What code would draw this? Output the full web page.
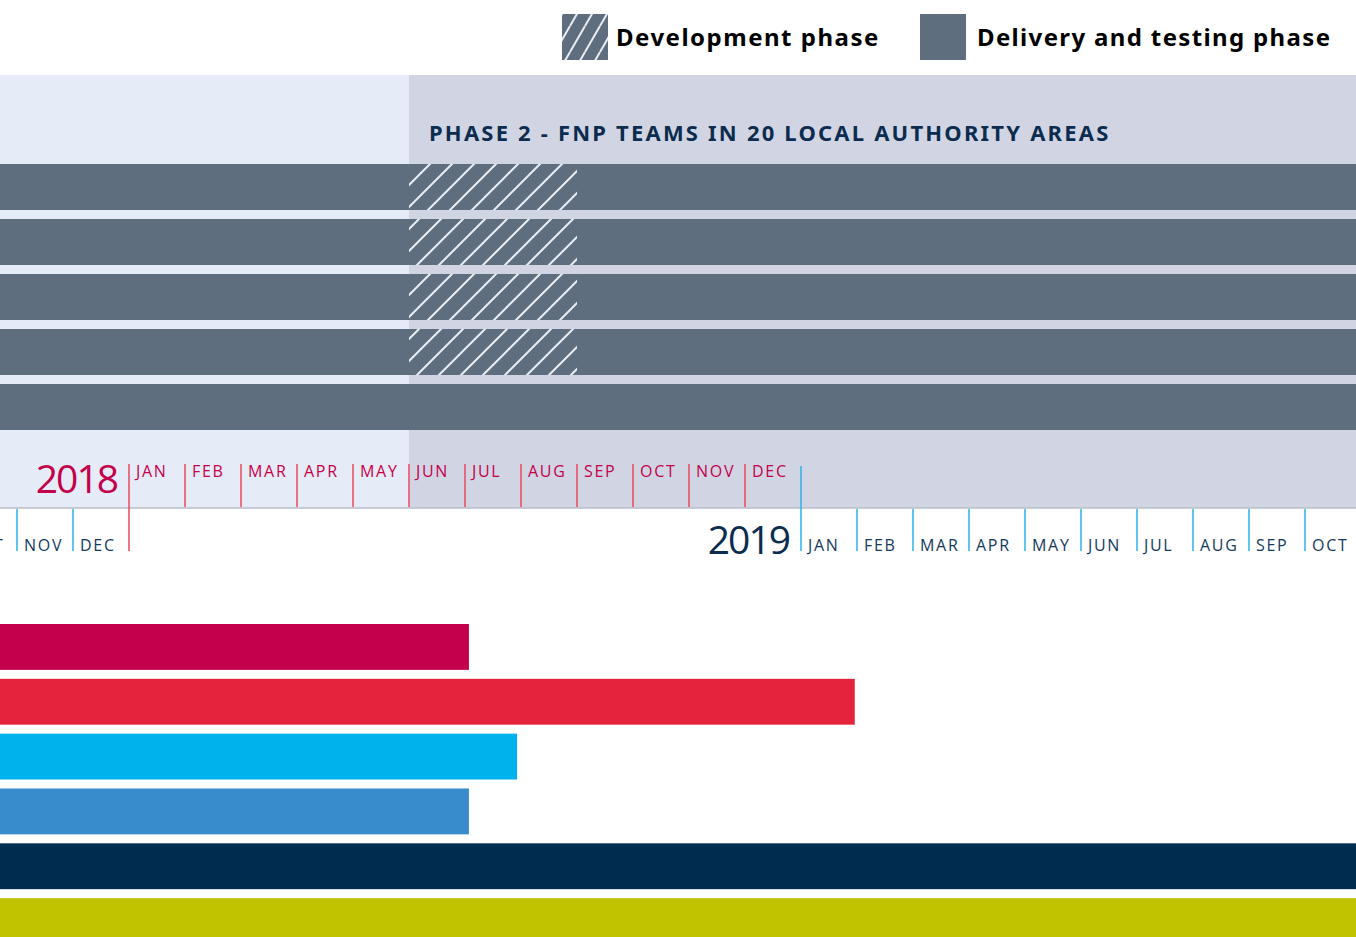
<!DOCTYPE html>
<html>
<head>
<meta charset="utf-8">
<script src="https://cdn.jsdelivr.net/npm/d3@7"></script>
<style>
    body { margin: 0; background: white; overflow: hidden; }
    svg { display: block; }
</style>
</head>
<body>
<div id="chart"></div>
<script>
// month index 0 = January 2018
let months2018 = ['JAN', 'FEB', 'MAR', 'APR', 'MAY', 'JUN', 'JUL', 'AUG', 'SEP', 'OCT', 'NOV', 'DEC'];
let months2017 = ['OCT', 'NOV', 'DEC'];
let months2017Idx = [-3, -2, -1];
let months2019 = ['JAN', 'FEB', 'MAR', 'APR', 'MAY', 'JUN', 'JUL', 'AUG', 'SEP', 'OCT'];
let months2019Idx = [12, 13, 14, 15, 16, 17, 18, 19, 20, 21];

let phase2Start = 5;
let phase2Title = 'PHASE 2 - FNP TEAMS IN 20 LOCAL AUTHORITY AREAS';

// grey rows: delivery bars, with development (hatched) part
let greyRows = ['r1', 'r2', 'r3', 'r4', 'r5'];
let greyStart = [-6, -6, -6, -6, -6];
let greyEnd = [24, 24, 24, 24, 24];
let devStart = [5, 5, 5, 5, null];
let devEnd = [8, 8, 8, 8, null];

// coloured rows below the timeline
let colourRows = ['c1', 'c2', 'c3', 'c4', 'c5', 'c6'];
let colourStart = [-6, -6, -6, -6, -6, -6];
let colourEnd = [6.07, 12.96, 6.93, 6.07, 24, 24];
let colourFill = ['#c4004a', '#e6233d', '#00b2eb', '#398ccb', '#002c4f', '#c2c300'];

let width = 1356;
let height = 937;

let svg = d3
    .select('#chart')
    .append('svg')
    .attr('width', width)
    .attr('height', height);

let defs = svg.append('defs');

defs.append('pattern')
    .attr('id', 'hatch')
    .attr('patternUnits', 'userSpaceOnUse')
    .attr('width', 22)
    .attr('height', 22)
    .call(p => {
        p.append('rect').attr('width', 22).attr('height', 22).attr('fill', '#5f6e7e');
        p.append('path')
            .attr('d', 'M-11,11L11,-11M0,22L22,0M11,33L33,11')
            .attr('stroke', '#e8edf6')
            .attr('stroke-width', 2);
    });

defs.append('pattern')
    .attr('id', 'hatchKey')
    .attr('patternUnits', 'userSpaceOnUse')
    .attr('width', 15)
    .attr('height', 26)
    .call(p => {
        p.append('rect').attr('width', 15).attr('height', 26).attr('fill', '#5f6e7e');
        p.append('path')
            .attr('d', 'M0,26L15,0M-15,26L0,0M15,26L30,0')
            .attr('stroke', '#e8edf6')
            .attr('stroke-width', 2);
    });

let xScale = d3
    .scaleLinear()
    .domain([0, 12])
    .range([129, 801]);

let yGrey = d3
    .scaleBand()
    .domain(greyRows)
    .range([164, 430])
    .paddingInner(9 / 55)
    .paddingOuter(0);

let yColour = d3
    .scaleBand()
    .domain(colourRows)
    .range([624, 944])
    .paddingInner(9 / 55)
    .paddingOuter(0);

let clamp = v => Math.max(-20, Math.min(width + 20, v));

// background panels
svg.append('rect')
    .attr('x', 0)
    .attr('y', 75)
    .attr('width', xScale(phase2Start))
    .attr('height', 433)
    .attr('fill', '#e6ecf7');
svg.append('rect')
    .attr('x', xScale(phase2Start))
    .attr('y', 75)
    .attr('width', width - xScale(phase2Start))
    .attr('height', 433)
    .attr('fill', '#d1d5e3');
svg.append('line')
    .attr('x1', 0)
    .attr('x2', width)
    .attr('y1', 508)
    .attr('y2', 508)
    .attr('stroke', '#b7bcc7')
    .attr('stroke-width', 1.5);

svg.append('text')
    .text(phase2Title)
    .attr('x', xScale(phase2Start) + 20)
    .attr('y', 141)
    .attr('font-family', 'Noto Sans')
    .attr('font-weight', 'bold')
    .attr('font-size', 22)
    .attr('letter-spacing', 2.2)
    .attr('fill', '#0b2c4f');

// grey bars
let greyData = greyRows.map((r, i) => ({row: r, s: greyStart[i], e: greyEnd[i], ds: devStart[i], de: devEnd[i]}));

svg.selectAll('rect.grey')
    .data(greyData)
    .enter()
    .append('rect')
    .attr('class', 'grey')
    .attr('x', d => clamp(xScale(d.s)))
    .attr('y', d => yGrey(d.row))
    .attr('width', d => clamp(xScale(d.e)) - clamp(xScale(d.s)))
    .attr('height', yGrey.bandwidth())
    .attr('fill', '#5f6e7e');

svg.selectAll('rect.dev')
    .data(greyData.filter(d => d.ds !== null))
    .enter()
    .append('rect')
    .attr('class', 'dev')
    .attr('x', d => xScale(d.ds))
    .attr('y', d => yGrey(d.row))
    .attr('width', d => xScale(d.de) - xScale(d.ds))
    .attr('height', yGrey.bandwidth())
    .attr('fill', 'url(#hatch)');

// coloured bars
let colourData = colourRows.map((r, i) => ({row: r, s: colourStart[i], e: colourEnd[i], fill: colourFill[i]}));

svg.selectAll('rect.colour')
    .data(colourData)
    .enter()
    .append('rect')
    .attr('class', 'colour')
    .attr('x', d => clamp(xScale(d.s)))
    .attr('y', d => yColour(d.row))
    .attr('width', d => clamp(xScale(d.e)) - clamp(xScale(d.s)))
    .attr('height', yColour.bandwidth())
    .attr('fill', d => d.fill);

// upper month row (2018)
let upper = svg.append('g').attr('class', 'upper');
upper.selectAll('line')
    .data(months2018)
    .enter()
    .append('line')
    .attr('x1', (d, i) => xScale(i))
    .attr('x2', (d, i) => xScale(i))
    .attr('y1', 464)
    .attr('y2', (d, i) => i === 0 ? 551 : 507)
    .attr('stroke', '#e8495f')
    .attr('stroke-width', 1.5);
upper.selectAll('text')
    .data(months2018)
    .enter()
    .append('text')
    .text(d => d)
    .attr('x', (d, i) => xScale(i) + 7)
    .attr('y', 477)
    .attr('font-family', 'Open Sans')
    .attr('font-size', 16)
    .attr('letter-spacing', 1.7)
    .attr('fill', '#c4004a');
upper.append('text')
    .text('2018')
    .attr('x', xScale(0) - 12)
    .attr('y', 493)
    .attr('text-anchor', 'end')
    .attr('font-family', 'Open Sans')
    .attr('font-size', 39)
    .attr('letter-spacing', -2)
    .attr('fill', '#c4004a');

// lower month row (2017 end, 2019)
let lowerNames = months2017.concat(months2019);
let lowerIdx = months2017Idx.concat(months2019Idx);
let lower = svg.append('g').attr('class', 'lower');
lower.selectAll('line')
    .data(lowerIdx)
    .enter()
    .append('line')
    .attr('x1', d => xScale(d))
    .attr('x2', d => xScale(d))
    .attr('y1', d => d === 12 ? 466 : 509)
    .attr('y2', 551)
    .attr('stroke', '#2cb1e6')
    .attr('stroke-width', 1.5);
lower.selectAll('text')
    .data(lowerIdx)
    .enter()
    .append('text')
    .text((d, i) => lowerNames[i])
    .attr('x', d => xScale(d) + 7)
    .attr('y', 551)
    .attr('font-family', 'Open Sans')
    .attr('font-size', 16)
    .attr('letter-spacing', 1.7)
    .attr('fill', '#143a5e');
lower.append('text')
    .text('2019')
    .attr('x', xScale(12) - 12)
    .attr('y', 554)
    .attr('text-anchor', 'end')
    .attr('font-family', 'Open Sans')
    .attr('font-size', 39)
    .attr('letter-spacing', -2)
    .attr('fill', '#0a2d50');

// legend
let legend = svg.append('g').attr('class', 'legend');
legend.append('rect')
    .attr('x', 562)
    .attr('y', 14)
    .attr('width', 46)
    .attr('height', 46)
    .attr('fill', 'url(#hatchKey)');
legend.append('text')
    .text('Development phase')
    .attr('x', 616)
    .attr('y', 46)
    .attr('font-family', 'Noto Sans')
    .attr('font-weight', 'bold')
    .attr('font-size', 24)
    .attr('letter-spacing', 1.5)
    .attr('fill', '#000');
legend.append('rect')
    .attr('x', 920)
    .attr('y', 14)
    .attr('width', 46)
    .attr('height', 46)
    .attr('fill', '#5f6e7e');
legend.append('text')
    .text('Delivery and testing phase')
    .attr('x', 977)
    .attr('y', 46)
    .attr('font-family', 'Noto Sans')
    .attr('font-weight', 'bold')
    .attr('font-size', 24)
    .attr('letter-spacing', 1.35)
    .attr('fill', '#000');
</script>
</body>
</html>
